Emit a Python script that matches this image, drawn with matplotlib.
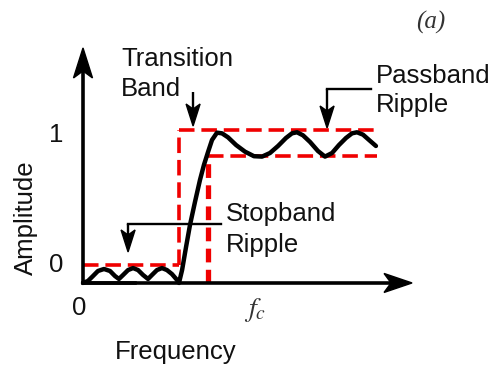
import numpy as np
import matplotlib.pyplot as plt
from matplotlib.patches import Polygon

plt.rcParams['font.family'] = ['Liberation Sans', 'DejaVu Sans']
plt.rcParams['mathtext.fontset'] = 'stix'

# frequency in units of fc, amplitude so that the "0" and "1" ticks sit at 0 and 1
stop_freq = [0.0, 0.029, 0.058, 0.087, 0.122, 0.157, 0.186, 0.209, 0.233, 0.262,
             0.291, 0.320, 0.349, 0.378, 0.401, 0.430, 0.459, 0.488, 0.517, 0.547, 0.558]
stop_amp = [-0.135, -0.120, -0.083, -0.045, -0.030, -0.045, -0.083, -0.105, -0.075, -0.038,
            -0.023, -0.038, -0.075, -0.105, -0.075, -0.038, -0.023, -0.038, -0.068, -0.113, -0.135]

trans_freq = [0.576, 0.599, 0.622, 0.651, 0.680, 0.703, 0.727, 0.750, 0.779]
trans_amp = [-0.038, 0.135, 0.301, 0.474, 0.639, 0.752, 0.850, 0.940, 0.995]

pass_freq = [0.808, 0.843, 0.890, 0.942, 0.994, 1.041, 1.087, 1.134, 1.180, 1.215, 1.244,
             1.279, 1.320, 1.366, 1.407, 1.448, 1.488, 1.529, 1.564, 1.593, 1.628, 1.663, 1.703]
pass_amp = [0.990, 0.960, 0.902, 0.852, 0.818, 0.815, 0.842, 0.895, 0.955, 0.990, 0.998,
            0.975, 0.925, 0.857, 0.815, 0.842, 0.902, 0.955, 0.990, 0.998, 0.980, 0.940, 0.895]

# tolerance template
stop_edge = 0.558
pass_edge = 0.727
band_end = 1.709
stop_limit = 0.0
pass_upper = 1.015
pass_lower = 0.82
floor = -0.135

tick_values = [0, 1]
tick_labels = ['0', '1']

freq = np.concatenate([stop_freq, trans_freq, pass_freq])
amp = np.concatenate([stop_amp, trans_amp, pass_amp])

fig = plt.figure(figsize=(4.94, 3.66), dpi=100)
ax = fig.add_axes([0, 0, 1, 1])
ax.set_xlim(-0.4826, 2.3895)
ax.set_ylim(-0.7594, 1.9925)
ax.axis('off')


def arrow(start, tip, length, half_w, notch, lw):
    # shaft plus a notched (stealth) head, head sizes in pixels
    T = ax.transData
    s = T.transform(start)
    t = T.transform(tip)
    d = (t - s) / np.hypot(*(t - s))
    p = np.array([-d[1], d[0]])
    back = t - d * length
    head = [t, back + p * half_w, t - d * (length - notch), back - p * half_w]
    head = T.inverted().transform(np.array(head))
    neck = T.inverted().transform(t - d * (length - notch))
    ax.plot([start[0], neck[0]], [start[1], neck[1]], color='k', lw=lw, solid_capstyle='butt')
    ax.add_patch(Polygon(head, closed=True, facecolor='k', edgecolor='k', lw=1.0))


red = '#f00000'
thin = dict(color=red, lw=2.6, dashes=(4.3, 1.9))
ax.plot([0, stop_edge], [stop_limit, stop_limit], **thin)
ax.plot([stop_edge, stop_edge], [stop_limit, pass_upper], **thin)
ax.plot([stop_edge, band_end], [pass_upper, pass_upper], **thin)
ax.plot([pass_edge, band_end], [pass_lower, pass_lower], **thin)
ax.plot([pass_edge, pass_edge], [floor, pass_lower], color=red, lw=3.8, dashes=(2.6, 1.4))

ax.plot(freq, amp, color='k', lw=3.2, solid_joinstyle='round', solid_capstyle='round')

# axes with arrow heads
ax.plot([0, 0.3], [floor, floor], color='k', lw=2.6, solid_capstyle='projecting')
arrow((0, floor), (0, 1.632), 30, 9.5, 7, 2.6)
arrow((0, floor), (1.913, floor), 28, 9.5, 7, 2.6)

# annotation pointers
arrow((0.640, 1.301), (0.640, 1.045), 22, 7, 5, 1.7)
ax.plot([1.674, 1.419], [1.323, 1.323], color='k', lw=1.7, solid_capstyle='projecting')
arrow((1.419, 1.323), (1.419, 1.030), 22, 7, 5, 1.7)
ax.plot([0.802, 0.262], [0.308, 0.308], color='k', lw=1.7, solid_capstyle='projecting')
arrow((0.262, 0.308), (0.262, 0.098), 22, 7, 5, 1.7)

fs = 18.5
ink = '#111111'
ax.text(0.221, 1.639, 'Transition\nBand', ha='left', va='top', fontsize=fs,
        linespacing=1.3, color=ink)
ax.text(1.703, 1.511, 'Passband\nRipple', ha='left', va='top', fontsize=fs,
        linespacing=1.25, color=ink)
ax.text(0.831, 0.474, 'Stopband\nRipple', ha='left', va='top', fontsize=fs,
        linespacing=1.35, color=ink)

for v, lab in zip(tick_values, tick_labels):
    ax.text(-0.157, v - 0.02 * v, lab, ha='center', va='center', fontsize=fs, color=ink)
ax.text(-0.023, -0.323, '0', ha='center', va='center', fontsize=fs, color=ink)
ax.text(1.0, -0.338, '$f_c$', ha='center', va='center', fontsize=20, color='#333333')
ax.text(0.541, -0.707, 'Frequency', ha='center', va='baseline', fontsize=fs, color=ink)
ax.text(-0.331, 0.353, 'Amplitude', ha='center', va='center', rotation=90, fontsize=fs,
        color=ink)
ax.text(2.023, 1.827, '(a)', ha='center', va='center', fontsize=18, color='#333333',
        family='Liberation Serif', style='italic')

fig.savefig('out.png', dpi=100)
